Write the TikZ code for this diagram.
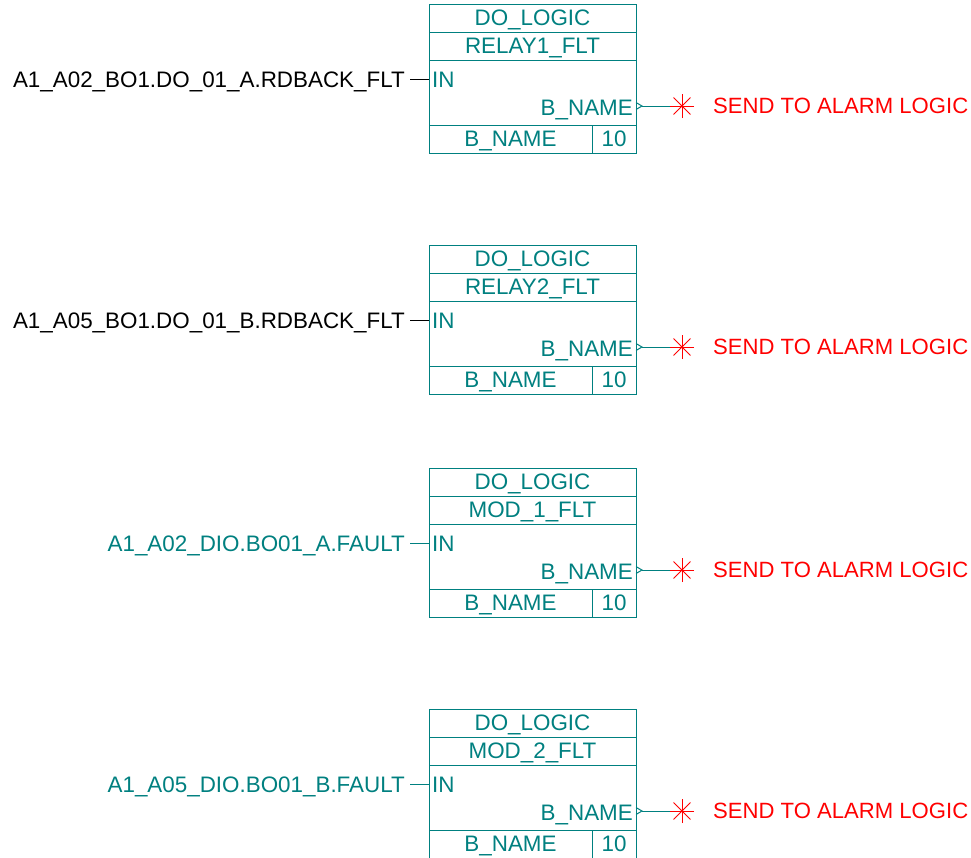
\documentclass[tikz,border=0pt]{standalone}
\usepackage{fontspec}
\setmainfont{Liberation Sans}
\usetikzlibrary{positioning}
\definecolor{fbdteal}{RGB}{0,128,128}
\definecolor{fbdred}{RGB}{255,0,0}
\newcommand{\fbdfont}{\fontsize{22.4}{24}\selectfont}
\newcommand{\alarmfont}{\fontsize{22.1}{24}\selectfont}
\tikzset{
  cell/.style   ={rectangle, draw=fbdteal, line width=1pt, text=fbdteal, inner sep=0pt, outer sep=0pt,
                  minimum height=28pt, text height=15pt, text depth=0pt, font=\fbdfont},
  hdr/.style    ={cell, minimum width=207pt},
  body/.style   ={cell, minimum width=207pt, minimum height=65pt},
  foot/.style   ={cell, minimum width=163pt},
  footnum/.style={cell, minimum width=44pt},
  pinlbl/.style ={text=fbdteal, inner sep=0pt, text height=15pt, text depth=0pt, font=\fbdfont},
  srclbl/.style ={inner sep=0pt, text height=15pt, text depth=0pt, anchor=base east, font=\fbdfont},
  alarm/.style  ={text=fbdred, inner sep=0pt, text height=15pt, text depth=0pt, anchor=west, font=\alarmfont},
  wire/.style   ={draw=fbdteal, line width=1pt},
  inwire/.style ={draw=black, line width=1pt},
  astr/.style   ={draw=fbdred, line width=0.9pt},
}

\begin{document}
\begin{tikzpicture}[x=1pt, y=-1pt]
  \useasboundingbox[fill=white] (0,0) rectangle (971,857);
  % block 1
  \node[hdr, anchor=north west] (dl1) at (429,4) {DO\_LOGIC};
  \node[hdr, below=0pt of dl1] (tg1) {RELAY1\_FLT};
  \node[body, below=0pt of tg1] (bd1) {};
  \node[foot, anchor=north west] (fn1) at (bd1.south west) {B\_NAME};
  \node[footnum, right=0pt of fn1] (fv1) {10};
  \node[pinlbl, anchor=base west] (in1) at ([xshift=3pt, yshift=-27pt]bd1.north west) {IN};
  \node[pinlbl, anchor=base east] (out1) at ([xshift=-3pt, yshift=-55pt]bd1.north east) {B\_NAME};
  \node[srclbl] (s1) at ([xshift=-24pt, yshift=-27pt]bd1.north west) {A1\_A02\_BO1.DO\_01\_A.RDBACK\_FLT};
  \coordinate (o1) at ([yshift=1.5pt]bd1.east |- out1);
  \coordinate (ast1) at ([xshift=46pt]o1);
  \node[alarm] (al1) at ([xshift=31pt]ast1) {SEND TO ALARM LOGIC};
  % block 2
  \node[hdr, anchor=north west] (dl2) at (429,245) {DO\_LOGIC};
  \node[hdr, below=0pt of dl2] (tg2) {RELAY2\_FLT};
  \node[body, below=0pt of tg2] (bd2) {};
  \node[foot, anchor=north west] (fn2) at (bd2.south west) {B\_NAME};
  \node[footnum, right=0pt of fn2] (fv2) {10};
  \node[pinlbl, anchor=base west] (in2) at ([xshift=3pt, yshift=-27pt]bd2.north west) {IN};
  \node[pinlbl, anchor=base east] (out2) at ([xshift=-3pt, yshift=-55pt]bd2.north east) {B\_NAME};
  \node[srclbl] (s2) at ([xshift=-24pt, yshift=-27pt]bd2.north west) {A1\_A05\_BO1.DO\_01\_B.RDBACK\_FLT};
  \coordinate (o2) at ([yshift=1.5pt]bd2.east |- out2);
  \coordinate (ast2) at ([xshift=46pt]o2);
  \node[alarm] (al2) at ([xshift=31pt]ast2) {SEND TO ALARM LOGIC};
  % block 3
  \node[hdr, anchor=north west] (dl3) at (429,468) {DO\_LOGIC};
  \node[hdr, below=0pt of dl3] (tg3) {MOD\_1\_FLT};
  \node[body, below=0pt of tg3] (bd3) {};
  \node[foot, anchor=north west] (fn3) at (bd3.south west) {B\_NAME};
  \node[footnum, right=0pt of fn3] (fv3) {10};
  \node[pinlbl, anchor=base west] (in3) at ([xshift=3pt, yshift=-27pt]bd3.north west) {IN};
  \node[pinlbl, anchor=base east] (out3) at ([xshift=-3pt, yshift=-55pt]bd3.north east) {B\_NAME};
  \node[srclbl, text=fbdteal] (s3) at ([xshift=-24pt, yshift=-27pt]bd3.north west) {A1\_A02\_DIO.BO01\_A.FAULT};
  \coordinate (o3) at ([yshift=1.5pt]bd3.east |- out3);
  \coordinate (ast3) at ([xshift=46pt]o3);
  \node[alarm] (al3) at ([xshift=31pt]ast3) {SEND TO ALARM LOGIC};
  % block 4
  \node[hdr, anchor=north west] (dl4) at (429,709) {DO\_LOGIC};
  \node[hdr, below=0pt of dl4] (tg4) {MOD\_2\_FLT};
  \node[body, below=0pt of tg4] (bd4) {};
  \node[foot, anchor=north west] (fn4) at (bd4.south west) {B\_NAME};
  \node[footnum, right=0pt of fn4] (fv4) {10};
  \node[pinlbl, anchor=base west] (in4) at ([xshift=3pt, yshift=-27pt]bd4.north west) {IN};
  \node[pinlbl, anchor=base east] (out4) at ([xshift=-3pt, yshift=-55pt]bd4.north east) {B\_NAME};
  \node[srclbl, text=fbdteal] (s4) at ([xshift=-24pt, yshift=-27pt]bd4.north west) {A1\_A05\_DIO.BO01\_B.FAULT};
  \coordinate (o4) at ([yshift=1.5pt]bd4.east |- out4);
  \coordinate (ast4) at ([xshift=46pt]o4);
  \node[alarm] (al4) at ([xshift=31pt]ast4) {SEND TO ALARM LOGIC};
  % wires, output pins and alarm stars
  \foreach \k in {1,2} \draw[inwire] ([xshift=5pt]s\k.east) -- (s\k.east -| bd\k.west);
  \foreach \k in {3,4} \draw[wire] ([xshift=5pt]s\k.east) -- (s\k.east -| bd\k.west);
  \foreach \k in {1,...,4} {
    \draw[wire] (o\k) ++(0,-3.5) -- ++(6,3.5) -- ++(-6,3.5);
    \draw[wire] ([xshift=6pt]o\k) -- (ast\k);
    \foreach \a in {0,45,90,135} \draw[astr] (ast\k) ++(\a:12) -- ++(\a+180:24);
    \fill[fbdred] (ast\k) circle (1.3);
  }
\end{tikzpicture}
\end{document}
